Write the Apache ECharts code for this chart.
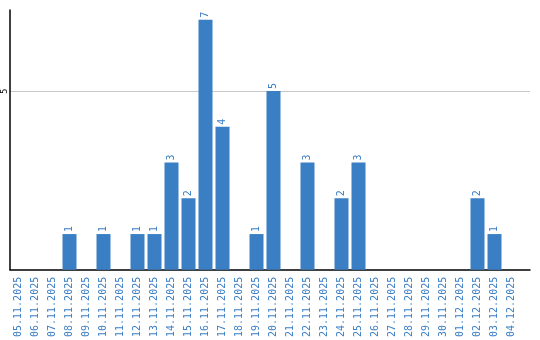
<!DOCTYPE html>
<html><head><meta charset="utf-8">
<script src="https://cdn.jsdelivr.net/npm/echarts@6/dist/echarts.min.js"></script>
<style>html,body{margin:0;padding:0;background:#fff}#c{width:540px;height:340px}</style>
</head><body><div id="c"></div>
<script>
const categories = ["05.11.2025","06.11.2025","07.11.2025","08.11.2025","09.11.2025","10.11.2025","11.11.2025","12.11.2025","13.11.2025","14.11.2025","15.11.2025","16.11.2025","17.11.2025","18.11.2025","19.11.2025","20.11.2025","21.11.2025","22.11.2025","23.11.2025","24.11.2025","25.11.2025","26.11.2025","27.11.2025","28.11.2025","29.11.2025","30.11.2025","01.12.2025","02.12.2025","03.12.2025","04.12.2025"];
const values = [0,0,0,1,0,1,0,1,1,3,2,7,4,0,1,5,0,3,0,2,3,0,0,0,0,0,0,2,1,0];
const yTicks = [5];
const yMax = 7.27;
const blue = '#3a7ec4';
const chart = echarts.init(document.getElementById('c'));
chart.setOption({
  animation: false,
  grid: [
    {left: 10, right: 20, top: 10, bottom: 70},
    {left: 10, right: 10, top: 10, bottom: 70}
  ],
  xAxis: [{
    type: 'category', gridIndex: 0, data: categories,
    axisLine: {show: false},
    axisTick: {show: false},
    axisLabel: {rotate: 90, interval: 0, color: blue, fontFamily: 'DejaVu Sans Mono', fontSize: 10, margin: 7}
  }, {
    type: 'value', gridIndex: 1, min: 0, max: 1,
    axisLine: {show: true, lineStyle: {color: '#000', width: 1.5}},
    axisTick: {show: false}, axisLabel: {show: false}, splitLine: {show: false}
  }],
  yAxis: [{
    type: 'value', gridIndex: 0, min: 0, max: yMax, interval: 5,
    axisLine: {show: true, lineStyle: {color: '#000', width: 1.5}},
    axisTick: {show: false},
    axisLabel: {showMinLabel: false, showMaxLabel: false, rotate: 90, color: '#000', fontSize: 8, fontFamily: 'DejaVu Sans', margin: 1,
      formatter: v => yTicks.includes(v) ? String(v) : ''},
    splitLine: {show: false}
  }, {
    type: 'value', gridIndex: 1, min: 0, max: yMax, interval: 5,
    axisLine: {show: false}, axisTick: {show: false}, axisLabel: {show: false},
    splitLine: {show: true, showMinLine: false, showMaxLine: false, lineStyle: {color: '#c8c8c8', width: 1}},
    z: 0
  }],
  series: [{
    type: 'bar', xAxisIndex: 0, yAxisIndex: 0, data: values,
    barWidth: 14,
    itemStyle: {color: blue},
    label: {
      show: true, position: 'top', rotate: 90, align: 'left', verticalAlign: 'middle', distance: 2,
      color: blue, fontSize: 10, fontFamily: 'DejaVu Sans Mono',
      formatter: p => p.value > 0 ? String(p.value) : ''
    }
  }]
});
</script></body></html>
